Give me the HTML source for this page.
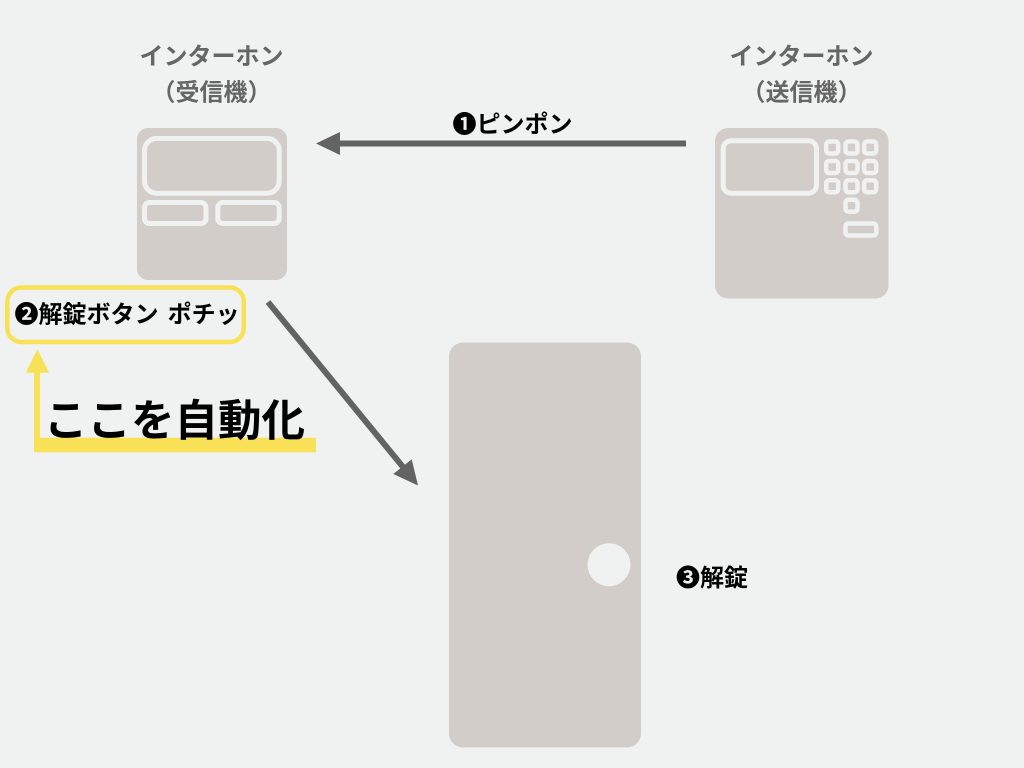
<!DOCTYPE html>
<html lang="ja"><head><meta charset="utf-8"><style>
html,body{margin:0;padding:0;background:#f0f2f2;width:1024px;height:768px;overflow:hidden}
svg{display:block}
text{font-family:"Liberation Sans","Noto Sans CJK JP",sans-serif;font-weight:700}
</style></head><body>
<svg width="1024" height="768" viewBox="0 0 1024 768" xmlns="http://www.w3.org/2000/svg">
<rect width="1024" height="768" fill="#f0f2f2"/>
<text x="211.500" y="64.500" font-size="24" fill="#666" text-anchor="middle">インターホン</text>
<text x="211.500" y="100.500" font-size="24" fill="#666" text-anchor="middle">（受信機）</text>
<text x="801.500" y="64.500" font-size="24" fill="#666" text-anchor="middle">インターホン</text>
<text x="801.500" y="100.500" font-size="24" fill="#666" text-anchor="middle">（送信機）</text>
<rect x="137" y="128" width="150" height="152" rx="11" fill="#d2cdc9"/>
<g fill="none" stroke="#f0f2f2" stroke-width="5">
<rect x="144.500" y="138.500" width="134.700" height="54.700" rx="12"/>
<rect x="144.500" y="202.500" width="61.500" height="21" rx="5"/>
<rect x="217.800" y="202.500" width="61.400" height="21" rx="5"/>
</g>
<rect x="715" y="128" width="173.500" height="170.500" rx="13" fill="#d2cdc9"/>
<g fill="none" stroke="#f0f2f2">
<rect x="723.200" y="140.800" width="93.300" height="52.400" rx="8" stroke-width="5"/>
<g stroke-width="4.500">
<rect x="826.200" y="141.500" width="12" height="12" rx="3"/>
<rect x="845.500" y="141.500" width="12" height="12" rx="3"/>
<rect x="864.200" y="141.500" width="12" height="12" rx="3"/>
<rect x="826.200" y="161" width="12" height="12" rx="3"/>
<rect x="845.500" y="161" width="12" height="12" rx="3"/>
<rect x="864.200" y="161" width="12" height="12" rx="3"/>
<rect x="826.200" y="180.300" width="12" height="12" rx="3"/>
<rect x="845.500" y="180.300" width="12" height="12" rx="3"/>
<rect x="864.200" y="180.300" width="12" height="12" rx="3"/>
<rect x="845.500" y="199.800" width="12" height="12" rx="3"/>
<rect x="845.500" y="223.500" width="30.800" height="12" rx="3"/>
</g></g>
<rect x="449" y="342.500" width="192" height="405" rx="14" fill="#d2cdc9"/>
<circle cx="609" cy="564.700" r="21.500" fill="#f0f2f2"/>
<rect x="340" y="140.500" width="346" height="6" fill="#636363"/>
<polygon points="316,143.500 340,132 340,155" fill="#636363"/>
<line x1="268" y1="302" x2="403" y2="467" stroke="#636363" stroke-width="6"/>
<polygon points="418,485.500 393.300,474 411.700,459.300" fill="#636363"/>
<rect x="7.300" y="287.500" width="236.500" height="54.500" rx="14" fill="none" stroke="#f8e156" stroke-width="4.500"/>
<rect x="34" y="372" width="6" height="80" fill="#f8e156"/>
<rect x="34" y="437.700" width="282" height="14.600" fill="#f8e156"/>
<polygon points="37.500,349.300 49,372.700 25.700,372.700" fill="#f8e156"/>
<text x="44" y="436" font-size="43.500" fill="#000">ここを自動化</text>
<text x="452.500" y="132.500" font-size="24" fill="#000">❶ピンポン</text>
<text x="14.500" y="322.500" font-size="24" fill="#000" word-spacing="2.500">❷解錠ボタン ポチッ</text>
<text x="676" y="586" font-size="24" fill="#000">❸解錠</text>
</svg>
</body></html>
